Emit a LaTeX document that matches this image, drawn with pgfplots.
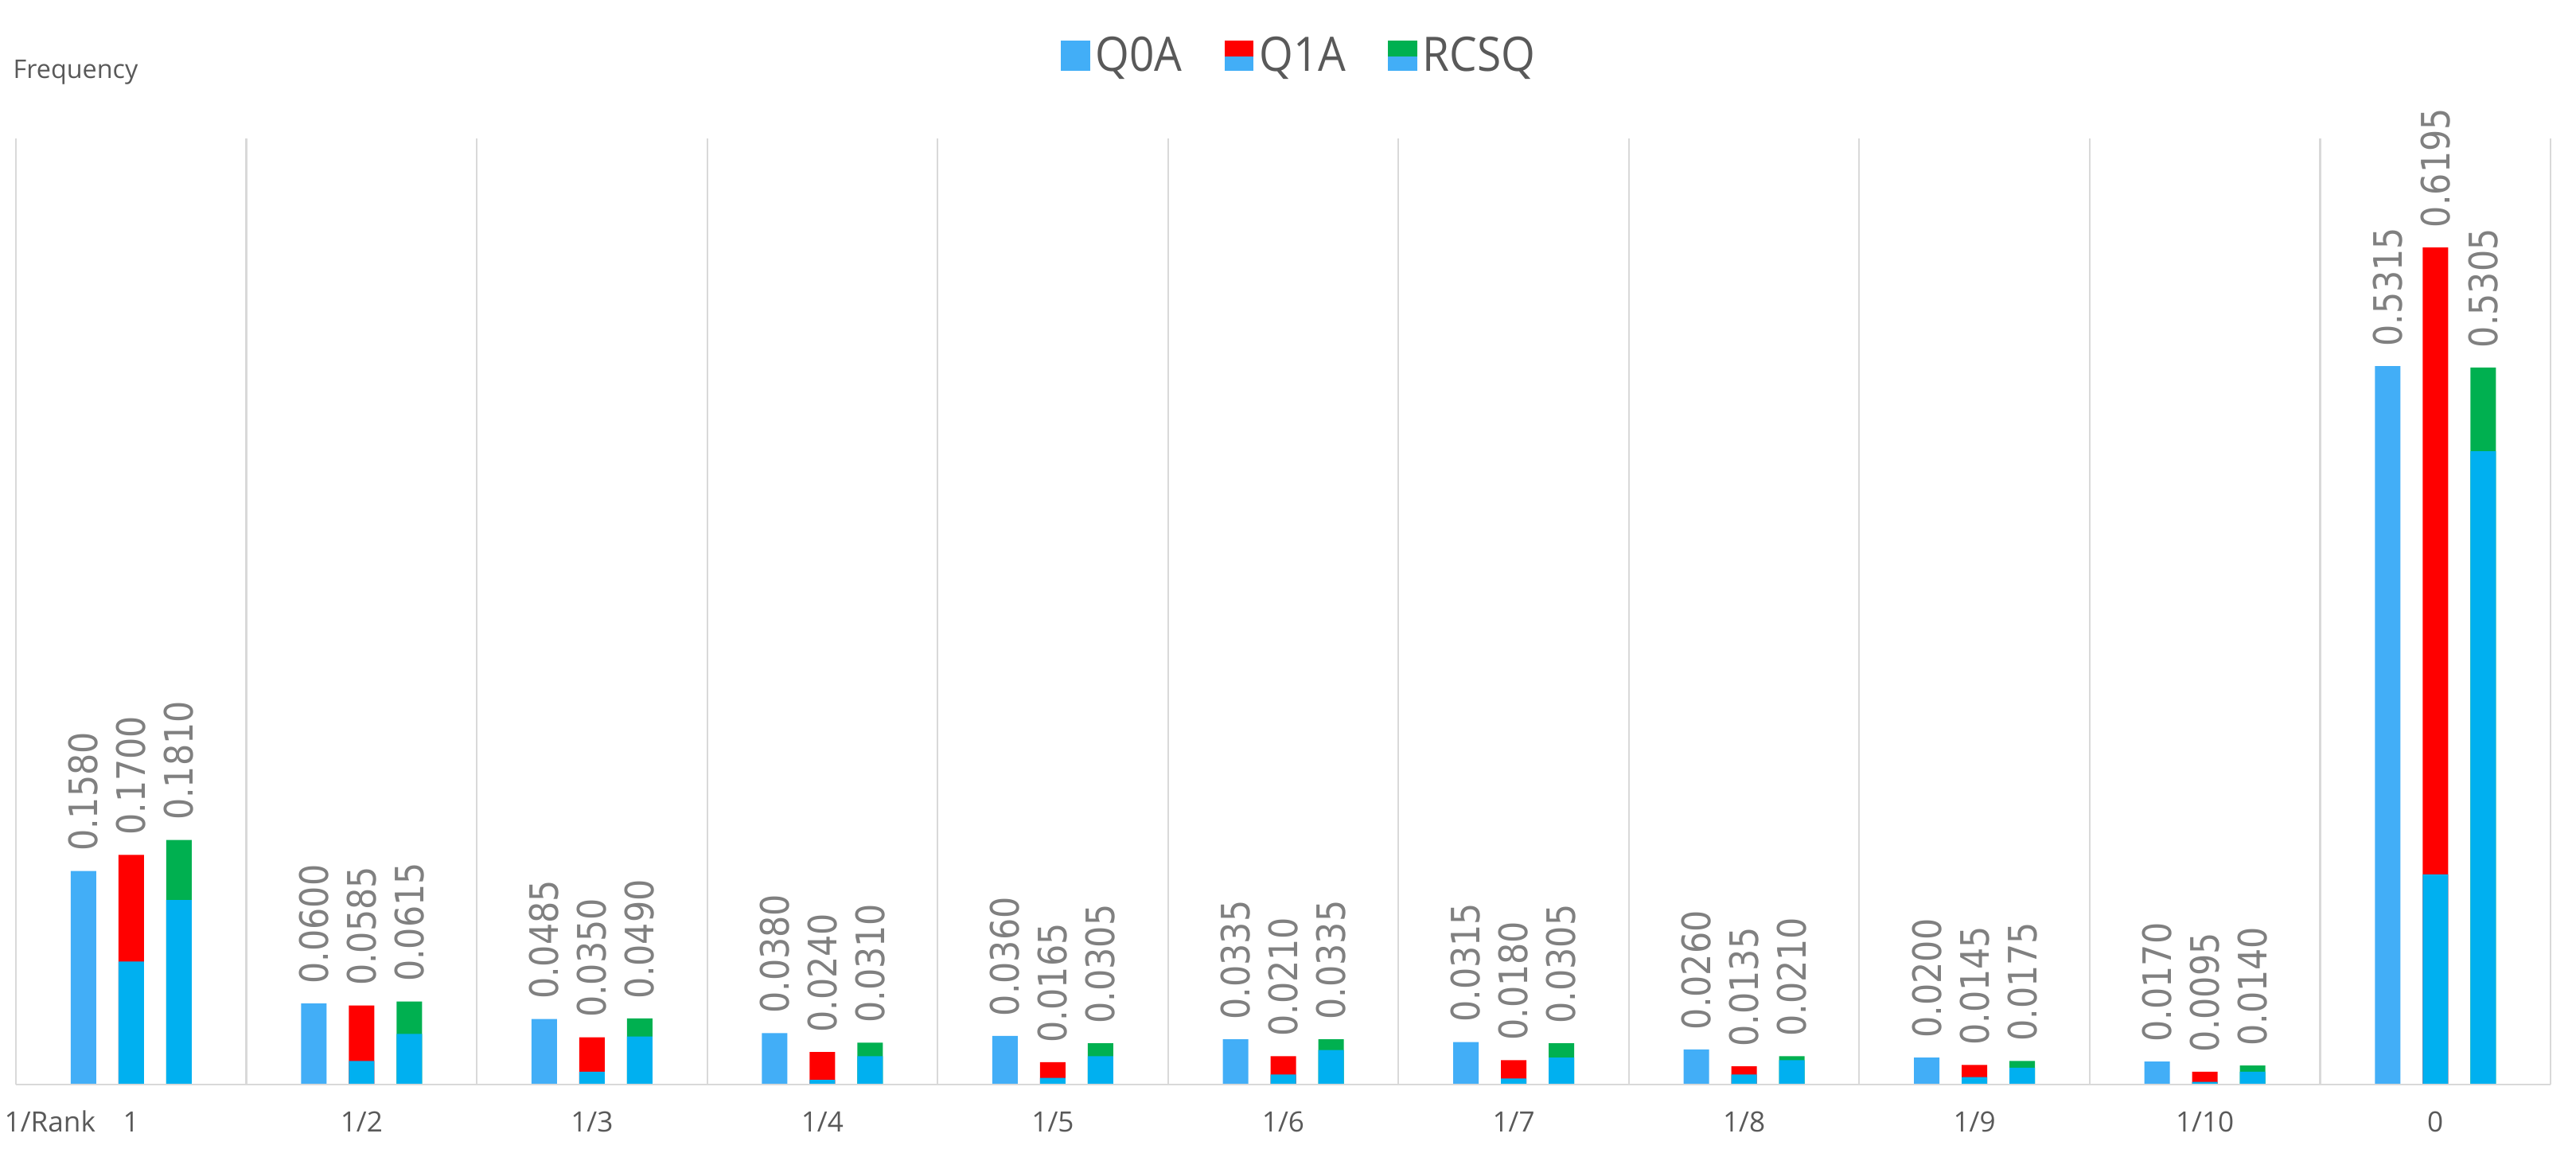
\documentclass[border=0pt]{standalone}
\usepackage{pgfplots}
\usepackage{pgfplotstable}
\pgfplotsset{compat=1.18}
\usepackage{fontspec}
\setmainfont{Open Sans}
\newfontfamily\labelfont[FakeStretch=0.87]{DejaVu Sans}
\newfontfamily\legfont[FakeStretch=0.92]{Open Sans}
\definecolor{qzero}{RGB}{66,174,247}
\definecolor{qblue}{RGB}{0,176,240}
\definecolor{qred}{RGB}{255,0,0}
\definecolor{qgreen}{RGB}{0,176,80}
\definecolor{txt}{RGB}{89,89,89}
\definecolor{lbl}{RGB}{128,128,128}
\definecolor{gridc}{RGB}{217,217,217}

\pgfplotstableread{
x q0 q1 q1b rc rcb
0 0.1580 0.1700 0.0910 0.1810 0.1365
1 0.0600 0.0585 0.0175 0.0615 0.0375
2 0.0485 0.0350 0.0095 0.0490 0.0355
3 0.0380 0.0240 0.0035 0.0310 0.0210
4 0.0360 0.0165 0.0050 0.0305 0.0210
5 0.0335 0.0210 0.0075 0.0335 0.0255
6 0.0315 0.0180 0.0045 0.0305 0.0200
7 0.0260 0.0135 0.0075 0.0210 0.0180
8 0.0200 0.0145 0.0055 0.0175 0.0125
9 0.0170 0.0095 0.0020 0.0140 0.0095
10 0.5315 0.6195 0.1555 0.5305 0.4685
}\datatable

\begin{document}
\begin{tikzpicture}
\useasboundingbox (0,0) rectangle (323.7mm,144.3mm);
\node[anchor=base west, font=\fontsize{9.2}{11}\selectfont, text=txt, inner sep=0pt] at (1.6mm,134.4mm) {Frequency};
\node[anchor=base west, font=\fontsize{10}{12}\selectfont, text=txt, inner sep=0pt] at (0.5mm,2.05mm) {1/Rank};
\begin{axis}[
  at={(2mm,8mm)}, anchor=south west, scale only axis,
  width=318.5mm, height=118.9mm,
  xmin=-0.5, xmax=10.5, ymin=0, ymax=0.7,
  ybar, bar width=3.2mm,
  axis line style={draw=none},
  ytick=\empty,
  xtick={0,...,10},
  xticklabels={1,1/2,1/3,1/4,1/5,1/6,1/7,1/8,1/9,1/10,0},
  major tick length=0pt, minor tick length=0pt,
  minor xtick={-0.5,0.5,...,10.5},
  xminorgrids, minor grid style={gridc, line width=0.6pt},
  xticklabel style={font=\fontsize{10}{12}\selectfont, text=txt, anchor=base, yshift=-5.95mm},
  clip=false,
  /pgf/number format/assume math mode=true,
  every node near coord/.append style={rotate=90, anchor=west, font=\labelfont\fontsize{14}{16}\selectfont, text=lbl, inner xsep=2.4mm, inner ysep=0pt},
  legend style={at={(0.507,1.0875)}, anchor=center, draw=none, fill=none, legend columns=3,
    font=\legfont\fontsize{17}{20}\selectfont, text=txt,
    /tikz/every even column/.append style={column sep=4.6mm}},
]
\addlegendimage{legend image code/.code={\fill[qzero] (0mm,-1.8mm) rectangle (3.5mm,1.8mm);}}
\addlegendentry{Q0A}
\addlegendimage{legend image code/.code={\fill[qzero] (0mm,-1.8mm) rectangle (3.5mm,0mm);\fill[qred] (0mm,0mm) rectangle (3.5mm,1.8mm);}}
\addlegendentry{Q1A}
\addlegendimage{legend image code/.code={\fill[qzero] (0mm,-1.8mm) rectangle (3.5mm,0mm);\fill[qgreen] (0mm,0mm) rectangle (3.5mm,1.8mm);}}
\addlegendentry{RCSQ}

\addplot[forget plot, fill=qzero, draw=none, bar shift=-6mm,
  nodes near coords={\pgfmathprintnumber[fixed,fixed zerofill,precision=4]{\pgfplotspointmeta}}]
  table[x=x, y=q0] {\datatable};
\addplot[forget plot, fill=qred, draw=none, bar shift=0mm,
  nodes near coords={\pgfmathprintnumber[fixed,fixed zerofill,precision=4]{\pgfplotspointmeta}}]
  table[x=x, y=q1] {\datatable};
\addplot[forget plot, fill=qblue, draw=none, bar shift=0mm]
  table[x=x, y=q1b] {\datatable};
\addplot[forget plot, fill=qgreen, draw=none, bar shift=6mm,
  nodes near coords={\pgfmathprintnumber[fixed,fixed zerofill,precision=4]{\pgfplotspointmeta}}]
  table[x=x, y=rc] {\datatable};
\addplot[forget plot, fill=qblue, draw=none, bar shift=6mm]
  table[x=x, y=rcb] {\datatable};
\draw[gridc, line width=0.75pt] (axis cs:-0.5,0) -- (axis cs:10.5,0);
\end{axis}
\end{tikzpicture}
\end{document}
